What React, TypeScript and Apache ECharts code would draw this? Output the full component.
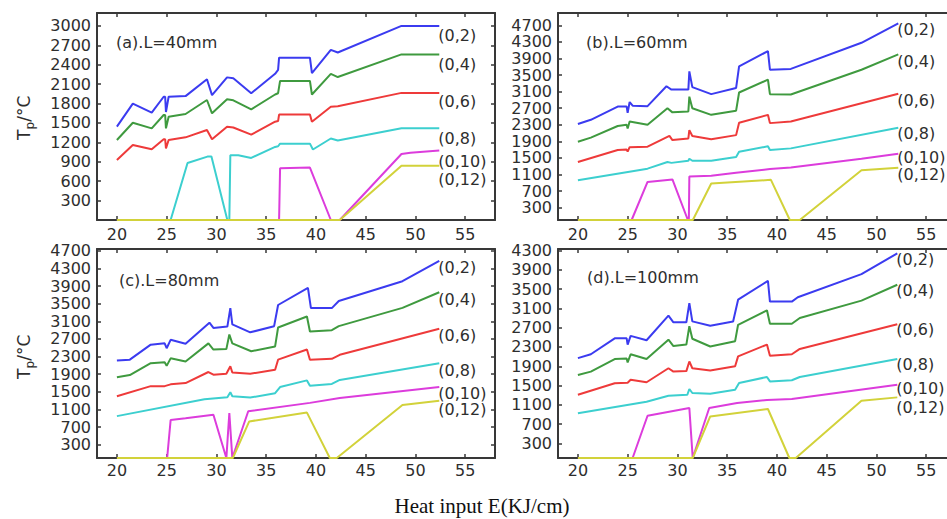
import React, { useEffect, useRef } from 'react';
import * as echarts from 'echarts';

// ---------- data ----------
const SERIES_NAMES = ['(0,2)', '(0,4)', '(0,6)', '(0,8)', '(0,10)', '(0,12)'];
const PANEL_TITLES = ['(a).L=40mm', '(b).L=60mm', '(c).L=80mm', '(d).L=100mm'];
const X_TICKS = [20, 25, 30, 35, 40, 45, 50, 55];
const Y_TICKS_A = [300, 600, 900, 1200, 1500, 1800, 2100, 2400, 2700, 3000];
const Y_TICKS_B = [300, 700, 1100, 1500, 1900, 2300, 2700, 3100, 3500, 3900, 4300, 4700];
const Y_TICKS_C = [300, 700, 1100, 1500, 1900, 2300, 2700, 3100, 3500, 3900, 4300, 4700];
const Y_TICKS_D = [300, 700, 1100, 1500, 1900, 2300, 2700, 3100, 3500, 3900, 4300];
const X_MIN = 18;
const X_MAX = 58;
const Y_MAX = [3200, 5000, 4740, 4330];
const X_TITLE = 'Heat input E(KJ/cm)';
const Y_TITLE_PARTS = ['T', 'p', '/°C'];

// (a) L = 40 mm
const A_02 = [[20, 1443], [21.6, 1800], [23.5, 1660], [24.7, 1905], [24.85, 1905], [24.93, 1670], [25.2, 1905], [26.9, 1915], [29.05, 2175], [29.56, 1930], [31.07, 2205], [31.7, 2190], [33.5, 1960], [35.9, 2260], [36.2, 2320], [36.3, 2510], [39.4, 2510], [39.6, 2270], [41.5, 2630], [42.2, 2590], [48.6, 3000], [52.4, 3000]];
const A_04 = [[20, 1237], [21.6, 1504], [23.5, 1417], [24.7, 1623], [24.85, 1623], [24.93, 1417], [25.2, 1597], [26.9, 1639], [29.05, 1855], [29.56, 1649], [31.07, 1866], [31.7, 1850], [33.5, 1710], [35.9, 1940], [36.2, 1960], [36.4, 2150], [39.4, 2150], [39.6, 1940], [41.5, 2260], [42.2, 2210], [48.6, 2560], [52.4, 2560]];
const A_06 = [[20, 928], [21.6, 1160], [23.5, 1093], [24.7, 1248], [24.85, 1248], [24.93, 1108], [25.2, 1237], [26.9, 1278], [29.05, 1391], [29.56, 1248], [31.07, 1443], [31.7, 1430], [33.5, 1320], [35.9, 1520], [36.2, 1530], [36.3, 1630], [39.4, 1630], [39.6, 1520], [41.5, 1750], [42.2, 1760], [48.6, 1965], [52.4, 1965]];
const A_08 = [[20, 0], [25.4, 0], [27.1, 880], [29.1, 980], [29.5, 980], [31.1, 0], [31.3, 0], [31.4, 1000], [32.2, 1000], [33.5, 960], [35.9, 1130], [36.2, 1140], [36.4, 1180], [39.4, 1180], [39.7, 1090], [41.5, 1260], [42.2, 1230], [48.6, 1420], [52.4, 1420]];
const A_10 = [[20, 0], [36.3, 0], [36.4, 800], [39.4, 810], [41.5, 0], [42.4, 0], [48.6, 1020], [49.5, 1040], [52.4, 1075]];
const A_12 = [[20, 0], [42.4, 0], [48.6, 840], [52.4, 840]];

// (b) L = 60 mm
const B_02 = [[20, 2320], [21.3, 2420], [24, 2740], [24.9, 2740], [25, 2590], [25.2, 2850], [25.5, 2760], [27, 2750], [28.9, 3230], [29.4, 3150], [31.1, 3150], [31.2, 3590], [31.5, 3210], [33.4, 3040], [35.9, 3190], [36.2, 3710], [39.1, 4080], [39.3, 3630], [41.4, 3650], [48.5, 4280], [52.2, 4750]];
const B_04 = [[20, 1890], [21.3, 1990], [24, 2270], [24.9, 2300], [25, 2210], [25.2, 2380], [27, 2300], [29, 2700], [29.5, 2600], [31.1, 2620], [31.2, 2980], [31.5, 2700], [33.4, 2540], [35.9, 2640], [36.2, 3080], [39.1, 3390], [39.3, 3040], [41.4, 3030], [48.5, 3630], [52.2, 4000]];
const B_06 = [[20, 1400], [24, 1690], [24.9, 1700], [25, 1650], [25.2, 1760], [27, 1770], [29.2, 2030], [29.5, 1930], [31.1, 1970], [31.2, 2170], [31.5, 2030], [33.4, 1950], [35.9, 2050], [36.2, 2350], [39.1, 2540], [39.3, 2340], [41.4, 2380], [52.2, 3050]];
const B_08 = [[20, 960], [27, 1240], [29, 1400], [29.4, 1380], [31.1, 1430], [31.2, 1480], [31.5, 1430], [33.4, 1430], [35.9, 1520], [36.2, 1650], [39.1, 1780], [39.3, 1690], [41.4, 1730], [52.2, 2230]];
const B_10 = [[20, 0], [25.4, 0], [27, 920], [29.5, 980], [31.05, 0], [31.15, 0], [31.2, 1050], [33.4, 1070], [35.9, 1140], [39.3, 1230], [41.4, 1270], [48.5, 1480], [52.2, 1600]];
const B_12 = [[20, 0], [31.55, 0], [33.4, 880], [39.4, 970], [41.3, 0], [42.3, 0], [48.5, 1200], [52.2, 1265]];

// (c) L = 80 mm
const C_02 = [[20, 2210], [21.3, 2230], [23.4, 2570], [24.8, 2600], [25, 2490], [25.4, 2680], [26.9, 2590], [29.3, 3070], [29.7, 2950], [31.1, 2980], [31.4, 3400], [31.6, 3030], [33.4, 2850], [35.8, 2990], [36.2, 3470], [39.2, 3860], [39.5, 3400], [41.6, 3400], [42.3, 3560], [48.7, 4010], [52.4, 4470]];
const C_04 = [[20, 1830], [21.3, 1880], [23.4, 2150], [24.8, 2170], [25, 2090], [25.4, 2260], [26.9, 2190], [29.2, 2600], [29.7, 2460], [31.0, 2470], [31.3, 2800], [31.6, 2600], [33.5, 2420], [35.9, 2530], [36.2, 2960], [39.1, 3210], [39.4, 2870], [41.6, 2900], [42.3, 2990], [48.7, 3405], [52.4, 3760]];
const C_06 = [[20, 1400], [23.4, 1630], [24.8, 1630], [25.4, 1670], [26.9, 1700], [29.2, 1950], [29.7, 1890], [31.0, 1910], [31.4, 2080], [31.6, 1940], [33.4, 1910], [35.9, 2000], [36.2, 2230], [39.1, 2460], [39.4, 2230], [41.6, 2250], [42.4, 2340], [52.4, 2930]];
const C_08 = [[20, 950], [28.8, 1330], [31.1, 1380], [31.4, 1490], [31.6, 1400], [33.4, 1370], [35.9, 1470], [36.4, 1610], [39.1, 1760], [39.4, 1640], [41.6, 1680], [42.4, 1770], [52.4, 2150]];
const C_10 = [[20, 0], [25.05, 0], [25.4, 860], [26.9, 900], [29.7, 980], [31.0, 0], [31.3, 1020], [31.6, 0], [33.2, 1060], [39.4, 1250], [42.4, 1360], [52.4, 1610]];
const C_12 = [[20, 0], [31.65, 0], [33.3, 830], [39.1, 1030], [41.4, 0], [42.1, 0], [48.7, 1200], [52.4, 1300]];

// (d) L = 100 mm
const D_02 = [[20, 2070], [21.3, 2150], [23.7, 2480], [24.9, 2480], [25, 2350], [25.3, 2530], [26.9, 2440], [29.1, 2950], [29.6, 2810], [30.9, 2810], [31.2, 3210], [31.5, 2830], [33.3, 2740], [35.6, 2830], [36.1, 3280], [39.1, 3670], [39.3, 3240], [41.5, 3240], [42.1, 3330], [48.5, 3810], [52.1, 4240]];
const D_04 = [[20, 1720], [21.3, 1790], [23.7, 2050], [24.9, 2060], [25, 1980], [25.3, 2150], [26.9, 2050], [29.1, 2450], [29.6, 2320], [30.9, 2350], [31.2, 2730], [31.5, 2470], [33.3, 2310], [35.8, 2420], [36.1, 2760], [39.0, 3060], [39.3, 2780], [41.5, 2780], [42.3, 2900], [48.5, 3260], [52.1, 3590]];
const D_06 = [[20, 1310], [23.7, 1550], [25, 1560], [25.3, 1620], [26.9, 1570], [29.1, 1860], [29.6, 1790], [30.9, 1800], [31.2, 2000], [31.5, 1860], [33.3, 1815], [35.8, 1900], [36.1, 2105], [39, 2350], [39.3, 2120], [41.5, 2150], [42.3, 2260], [52.1, 2770]];
const D_08 = [[20, 925], [26.9, 1166], [29.1, 1290], [31.0, 1310], [31.2, 1430], [31.5, 1346], [33.3, 1333], [35.8, 1415], [36.2, 1554], [39, 1678], [39.3, 1587], [41.5, 1610], [42.3, 1678], [52.1, 2050]];
const D_10 = [[20, 0], [25.5, 0], [27, 876], [31.2, 1036], [31.54, 0], [33.2, 1036], [36, 1140], [39, 1200], [41.5, 1221], [52.1, 1518]];
const D_12 = [[20, 0], [31.54, 0], [33.3, 862], [39.1, 1015], [41.25, 0], [41.9, 0], [48.5, 1187], [52.1, 1256]];

const PANEL_DATA = [
  [A_02, A_04, A_06, A_08, A_10, A_12],
  [B_02, B_04, B_06, B_08, B_10, B_12],
  [C_02, C_04, C_06, C_08, C_10, C_12],
  [D_02, D_04, D_06, D_08, D_10, D_12],
];
const PANEL_Y_TICKS = [Y_TICKS_A, Y_TICKS_B, Y_TICKS_C, Y_TICKS_D];

// ---------- layout / style ----------
const SERIES_COLORS = ['#3b3bf0', '#3f9a3f', '#ee3a3a', '#3ccfcf', '#dc3cdc', '#d2d23a'];
const GRIDS = [
  { left: 97, top: 13, width: 398, height: 207 },
  { left: 558, top: 13, width: 398, height: 207 },
  { left: 97, top: 249, width: 398, height: 209 },
  { left: 558, top: 249, width: 398, height: 209 },
];
const LABEL_DY = [
  [10, 10, 9, 10, 11, 14],
  [6, 7, 7, 6, 4, 7],
  [7, 7, 7, 7, 6, 9],
  [6, 6, 5, 5, 4, 10],
];
const X_LABEL_MARGIN = [6, 6, 4, 4];
const TITLE_POS = [[116, 42], [586, 42], [119, 280], [587, 277]];
// bottom end (screen y) of the vertical y-axis title in panels (a) and (c)
const Y_TITLE_BOTTOM = [140, 379];
const AXIS_COLOR = '#383838';
const TEXT_COLOR = '#2e2e2e';
const SANS = '"DejaVu Sans", sans-serif';

function buildOption() {
  const lineStyle = { color: AXIS_COLOR, width: 2 };
  const tickStyle = { color: AXIS_COLOR, width: 1.5 };
  const labelFont = { fontFamily: SANS, fontSize: 16, color: TEXT_COLOR };
  const xAxis: any[] = [];
  const yAxis: any[] = [];
  const series: any[] = [];

  GRIDS.forEach((_, i) => {
    const yTicks = PANEL_Y_TICKS[i];
    const common = { gridIndex: i, type: 'value', splitLine: { show: false } };
    xAxis.push({
      ...common, min: X_MIN, max: X_MAX, position: 'bottom',
      axisLine: { show: true, onZero: false, lineStyle },
      axisTick: { show: true, inside: true, length: 4, customValues: X_TICKS, lineStyle: tickStyle },
      axisLabel: { show: true, customValues: X_TICKS, margin: X_LABEL_MARGIN[i], formatter: (v: number) => String(v), ...labelFont },
    });
    xAxis.push({
      ...common, min: X_MIN, max: X_MAX, position: 'top',
      axisLine: { show: true, onZero: false, lineStyle },
      axisTick: { show: true, inside: true, length: 4, customValues: X_TICKS, lineStyle: tickStyle },
      axisLabel: { show: false },
    });
    yAxis.push({
      ...common, min: 0, max: Y_MAX[i], position: 'left',
      axisLine: { show: true, onZero: false, lineStyle },
      axisTick: { show: true, inside: true, length: 4, customValues: yTicks, lineStyle: tickStyle },
      axisLabel: { show: true, customValues: yTicks, margin: 6, formatter: (v: number) => String(v), ...labelFont },
    });
    yAxis.push({
      ...common, min: 0, max: Y_MAX[i], position: 'right',
      axisLine: { show: true, onZero: false, lineStyle },
      axisTick: { show: true, inside: true, length: 4, customValues: yTicks, lineStyle: tickStyle },
      axisLabel: { show: false },
    });
    PANEL_DATA[i].forEach((data, j) => {
      series.push({
        type: 'line',
        name: SERIES_NAMES[j],
        xAxisIndex: 2 * i,
        yAxisIndex: 2 * i,
        data,
        showSymbol: false,
        symbol: 'none',
        lineStyle: { color: SERIES_COLORS[j], width: 2 },
        itemStyle: { color: SERIES_COLORS[j] },
        emphasis: { disabled: true },
        endLabel: {
          show: true,
          formatter: () => SERIES_NAMES[j],
          distance: 0,
          offset: [-1, LABEL_DY[i][j]],
          ...labelFont,
        },
      });
    });
  });

  const graphic: any[] = [];
  PANEL_TITLES.forEach((t, i) => {
    graphic.push({
      type: 'text', x: TITLE_POS[i][0], y: TITLE_POS[i][1], z: 10,
      style: { text: t, font: `16px ${SANS}`, fill: TEXT_COLOR, align: 'left', verticalAlign: 'middle' },
    });
  });
  // vertical y-axis title "T_p/°C" (reads bottom-to-top), built from three rotated plain texts
  Y_TITLE_BOTTOM.forEach((b) => {
    const parts = [
      { text: Y_TITLE_PARTS[0], size: 17, dx: 0, len: 10.4 },
      { text: Y_TITLE_PARTS[1], size: 12, dx: 6, len: 7.8 },
      { text: Y_TITLE_PARTS[2], size: 17, dx: 0, len: 26.2 },
    ];
    let cursor = b;
    parts.forEach((p) => {
      graphic.push({
        type: 'text', x: 24 + p.dx, y: cursor, rotation: Math.PI / 2, z: 10,
        style: { text: p.text, font: `${p.size}px ${SANS}`, fill: TEXT_COLOR, align: 'left', verticalAlign: 'middle' },
      });
      cursor -= p.len;
    });
  });
  graphic.push({
    type: 'text', x: 482, y: 506, z: 10,
    style: { text: X_TITLE, font: '21px "Liberation Serif", serif', fill: '#111', align: 'center', verticalAlign: 'middle' },
  });

  return {
    animation: false,
    backgroundColor: '#ffffff',
    grid: GRIDS.map((g) => ({ ...g, containLabel: false, outerBoundsMode: 'none' })),
    xAxis,
    yAxis,
    series,
    graphic,
  };
}

export default function App() {
  const ref = useRef<HTMLDivElement>(null);
  useEffect(() => {
    if (!ref.current) return;
    const chart = echarts.init(ref.current, null, { renderer: 'svg' });
    chart.setOption(buildOption() as any);
    return () => chart.dispose();
  }, []);
  return (
    <div
      ref={ref}
      style={{ position: 'absolute', left: 0, top: 0, width: 947, height: 519, background: '#fff' }}
    />
  );
}
